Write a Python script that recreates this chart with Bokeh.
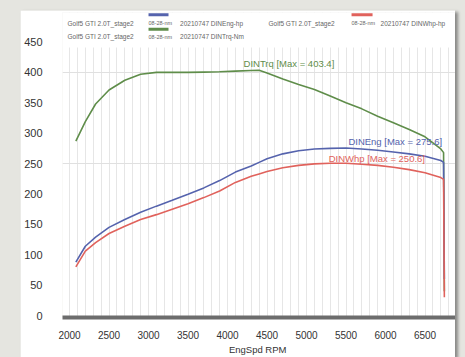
from bokeh.plotting import figure
from bokeh.models import Range1d, FixedTicker, SingleIntervalTicker, Spacer
from bokeh.layouts import row, column
from bokeh.core.properties import value
from bokeh.embed import file_html
from bokeh.resources import INLINE

# ---- data ----
rpm = [2080, 2200, 2330, 2500, 2700, 2900, 3100, 3300, 3500, 3700, 3900, 4100,
       4300, 4400, 4500, 4700, 4900, 5100, 5300, 5500, 5700, 5900, 6100, 6300,
       6500, 6700, 6735, 6745]
din_trq = [287, 319, 348, 371, 387, 397, 400, 400, 400, 400.5, 401, 402,
           403, 403.4, 399, 389, 380, 372, 361, 350, 340, 328, 317, 306,
           294, 274, 268, 40]
din_eng = [88, 114, 129, 145, 158, 170, 180, 189.5, 199.5, 210, 222, 236,
           246, 252, 258, 266, 271, 274, 275, 275.6, 274, 272, 269, 266,
           262, 255, 252, 60]
din_whp = [80, 106, 120, 135, 147, 158, 166, 175, 184, 194, 205, 219,
           229, 233, 237, 243, 247, 249.5, 250.6, 250.5, 249, 247, 244, 240,
           235, 227, 224, 30]

series_names = ["DINEng", "DINWhp", "DINTrq"]
series_max = [275.6, 250.6, 403.4]
legend_car = "Golf5 GTI 2.0T_stage2"
legend_date = "08-28-nm"
legend_suffix = ["20210747  DINEng-hp", "20210747  DINWhp-hp", "20210747  DINTrq-Nm"]
x_ticks = [2000, 2500, 3000, 3500, 4000, 4500, 5000, 5500, 6000, 6500]
y_ticks = [0, 50, 100, 150, 200, 250, 300, 350, 400, 450]
x_title = "EngSpd  RPM"

GREEN = "#5f8d4a"
BLUE = "#5563ad"
RED = "#e0625c"
FONT = "Liberation Sans"

p = figure(width=435, height=347, output_backend="svg", toolbar_location=None,
           x_range=Range1d(1911, 6886), y_range=Range1d(-3.2, 498.5),
           min_border_left=42, min_border_right=0, min_border_top=2,
           min_border_bottom=34, background_fill_color="white",
           border_fill_color="white", outline_line_color=None,
           styles={"box-shadow": "3px 2px 3px #8a8a88"})

# grids
p.xgrid.ticker = SingleIntervalTicker(interval=100, num_minor_ticks=0)
p.xgrid.grid_line_color = "#e6e6e6"
p.xgrid.grid_line_width = 1
p.ygrid.ticker = FixedTicker(ticks=[250, 400])
p.ygrid.grid_line_color = "#e0e0e0"

# axes
p.xaxis.ticker = FixedTicker(ticks=x_ticks)
p.yaxis.ticker = FixedTicker(ticks=y_ticks)
for ax in (p.xaxis[0], p.yaxis[0]):
    ax.major_tick_line_color = None
    ax.minor_tick_line_color = None
    ax.major_label_text_font = FONT
    ax.major_label_text_color = "#333333"
p.xaxis.axis_line_color = "#6c6c6c"
p.xaxis.axis_line_width = 4
p.xaxis.major_label_text_font_size = "10px"
p.xaxis.major_label_standoff = 7
p.xaxis.axis_label = x_title
p.xaxis.axis_label_text_font = FONT
p.xaxis.axis_label_text_font_size = "9.5px"
p.xaxis.axis_label_text_font_style = "normal"
p.xaxis.axis_label_text_color = "#333333"
p.xaxis.axis_label_standoff = 2
p.yaxis.axis_line_color = None
p.yaxis.major_label_text_font_size = "11px"
p.yaxis.major_label_standoff = 14

# white band above the plotting area (legend zone)
p.quad(left=[1911], right=[6886], bottom=[441], top=[498.5],
       fill_color="white", line_color=None)

# curves
p.line(rpm, din_trq, line_color=GREEN, line_width=1.6)
p.line(rpm, din_eng, line_color=BLUE, line_width=1.6)
p.line(rpm, din_whp, line_color=RED, line_width=1.6)

# curve labels
p.text(x=[4203], y=[414.5], text=[f"{series_names[2]} [Max = {series_max[2]}]"],
       text_color=GREEN, text_font=value(FONT), text_font_size="9.5px",
       text_baseline="middle", text_align="left")
p.text(x=[5530], y=[287], text=[f"{series_names[0]} [Max = {series_max[0]}]"],
       text_color=BLUE, text_font=value(FONT), text_font_size="9.5px",
       text_baseline="middle", text_align="left")
p.text(x=[5280], y=[258], text=[f"{series_names[1]} [Max = {series_max[1]}]"],
       text_color=RED, text_font=value(FONT), text_font_size="9.5px",
       text_baseline="middle", text_align="left")

# legend (top band)
leg_xa = [1975, 4519, 1975]
leg_xb = [3000, 5570, 3000]
leg_xc = [3400, 5937, 3400]
leg_b0 = [3000, 5570, 3000]
leg_b1 = [3253, 5836, 3253]
leg_ty = [481, 481, 459]
leg_by = [495, 495, 471]
leg_col = [BLUE, RED, GREEN]
leg_style = dict(text_font=value(FONT), text_color="#666666",
                 text_baseline="middle")
p.text(x=leg_xa, y=leg_ty, text=[legend_car] * 3, text_font_size="6.5px",
       **leg_style)
p.text(x=leg_xb, y=leg_ty, text=[legend_date] * 3, text_font_size="5.5px",
       **leg_style)
p.text(x=leg_xc, y=leg_ty, text=legend_suffix, text_font_size="6.5px",
       **leg_style)
p.segment(x0=leg_b0, x1=leg_b1, y0=leg_by, y1=leg_by, line_color=leg_col,
          line_width=3)

page = row(Spacer(width=20, height=357),
           column(Spacer(width=435, height=10), p),
           Spacer(width=10, height=357),
           styles={"background-color": "#e5e5e0"})

open("out.html", "w").write(file_html(page, INLINE))
